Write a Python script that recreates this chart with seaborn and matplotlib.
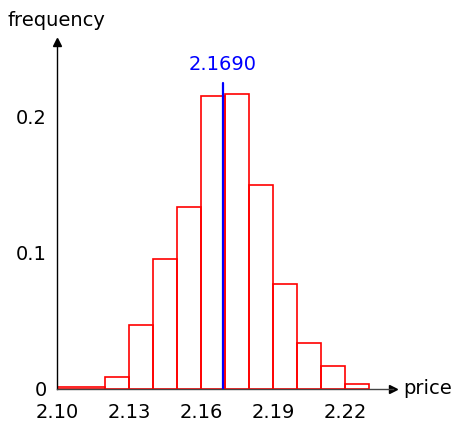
import matplotlib
matplotlib.use("Agg")
import matplotlib.pyplot as plt
import seaborn as sns
import numpy as np
import pandas as pd

# Data
bin_edges = [2.10, 2.12, 2.13, 2.14, 2.15, 2.16, 2.17, 2.18, 2.19, 2.20, 2.21, 2.22, 2.23]
frequencies = [0.0013, 0.0085, 0.0466, 0.0949, 0.1338, 0.2152, 0.2166, 0.1497, 0.0767, 0.0335, 0.0164, 0.0032]
mean_price = 2.169
mean_label = "2.1690"
x_ticks = [2.10, 2.13, 2.16, 2.19, 2.22]
x_tick_labels = ["2.10", "2.13", "2.16", "2.19", "2.22"]
y_ticks = [0, 0.1, 0.2]
y_tick_labels = ["0", "0.1", "0.2"]

sns.set_style("white")
plt.rcParams['font.family'] = ['DejaVu Sans']
plt.rcParams['text.color'] = 'black'

W, H = 452, 423
fig = plt.figure(figsize=(W / 100, H / 100), dpi=100)
x0, x1 = 57, 393
y0, y1 = 388.5, 41.7
ax = fig.add_axes([x0 / W, (H - y0) / H, (x1 - x0) / W, (y0 - y1) / H])

left_edges = bin_edges[:-1]
df = pd.DataFrame({"price": [l + 1e-6 for l in left_edges], "freq": frequencies})
sns.histplot(data=df, x="price", weights="freq", bins=bin_edges, stat="count",
             fill=False, element="bars", color="#ff0000", linewidth=1.2, ax=ax)

ax.set_xlim(2.10, 2.24)
ax.set_ylim(0, 0.255)

# mean line
ax.plot([mean_price, mean_price], [0, 0.2247], color="#0000ff", linewidth=1.6, zorder=5)
ax.text(mean_price, 0.231, mean_label, color="#0000ff", ha="center", va="bottom", fontsize=14)

for s in ["top", "right"]:
    ax.spines[s].set_visible(False)
ax.spines["left"].set_color("black")
ax.spines["bottom"].set_color("#444444")
ax.spines["left"].set_linewidth(1.0)
ax.spines["bottom"].set_linewidth(1.0)

# arrows
ax.plot(1, 0, ">", color="black", transform=ax.transAxes, clip_on=False, markersize=6)
ax.plot(0, 1, "^", color="black", transform=ax.transAxes, clip_on=False, markersize=6)

ax.set_xticks(x_ticks)
ax.set_xticklabels(x_tick_labels)
ax.set_yticks(y_ticks)
ax.set_yticklabels(y_tick_labels)
ax.tick_params(axis="both", direction="inout", length=9, width=1.0, labelsize=14,
               colors="#555555", labelcolor="black")
ax.tick_params(axis="x", pad=6)
ax.tick_params(axis="y", pad=3)
ax.set_xlabel("")
ax.set_ylabel("")

fig.text(8 / W, (H - 20) / H, "frequency", ha="left", va="center", fontsize=14, color="black")
ax.text(1.03, 0, "price", transform=ax.transAxes, ha="left", va="center", fontsize=14, color="black")

fig.savefig("out.png", dpi=100)
